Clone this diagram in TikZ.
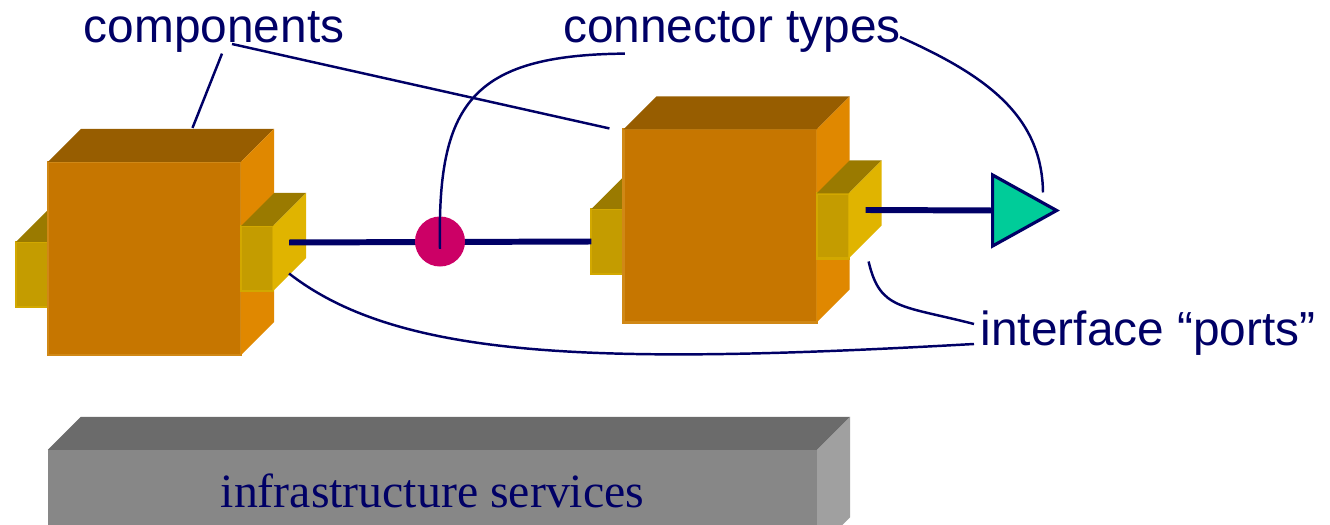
\documentclass[tikz,border=0pt]{standalone}
\usepackage{fontspec}
\setmainfont{Liberation Serif}
\newfontfamily\sansfont{Liberation Sans}
\usetikzlibrary{positioning, shapes.geometric, backgrounds}

\definecolor{navy}{HTML}{000066}
\definecolor{boxfront}{HTML}{C67600}
\definecolor{boxedge}{HTML}{D08816}
\definecolor{boxtop}{HTML}{975D00}
\definecolor{boxside}{HTML}{E08800}
\definecolor{portfront}{HTML}{C49C00}
\definecolor{portedge}{HTML}{D2A800}
\definecolor{porttop}{HTML}{9A7A00}
\definecolor{portside}{HTML}{E0B400}
\definecolor{barfront}{HTML}{878787}
\definecolor{bartop}{HTML}{6B6B6B}
\definecolor{barside}{HTML}{A0A0A0}
\definecolor{dotred}{HTML}{CC0066}
\definecolor{arrowgreen}{HTML}{00CC99}

\tikzset{
	cube/.style={rectangle, fill=boxfront, draw=boxedge, line width=0.6pt, minimum width=1.93cm, minimum height=1.93cm, inner sep=0pt, outer sep=0pt},
	port/.style={rectangle, fill=portfront, draw=portedge, line width=0.6pt, minimum width=0.32cm, minimum height=0.65cm, inner sep=0pt, outer sep=0pt},
	bar/.style={rectangle, fill=barfront, minimum width=7.69cm, minimum height=1cm, inner sep=0pt, outer sep=0pt},
	tagtext/.style={font=\sansfont\fontsize{13.6}{16}\selectfont, text=navy, inner sep=0pt, anchor=base},
	wire/.style={navy, line width=1.7pt},
	leader/.style={navy, line width=0.7pt},
}

% top and right faces behind a front rectangle
\newcommand{\backfaces}[3]{%
	\fill[#2] (#1.north west) -- ++(33,-33) -- ([shift={(33,-33)}]#1.north east) -- (#1.north east) -- cycle;
	\fill[#3] (#1.north east) -- ++(33,-33) -- ([shift={(33,-33)}]#1.south east) -- (#1.south east) -- cycle;
}

\begin{document}
\begin{tikzpicture}[x=0.01cm, y=-0.01cm]
	\clip (0,0) rectangle (1330,525);

	% first component
	\node[cube] (compA) at (144.5,258.5) {};
	\backfaces{compA}{boxtop}{boxside}
	\begin{scope}[on background layer]
		\node[port, left=0pt of compA, yshift=-0.16cm] (inA) {};
		\backfaces{inA}{porttop}{portside}
	\end{scope}
	\node[port, right=0pt of compA] (outA) {};
	\backfaces{outA}{porttop}{portside}

	% second component
	\node[cube] (compB) at (720,226) {};
	\backfaces{compB}{boxtop}{boxside}
	\begin{scope}[on background layer]
		\node[port, left=0pt of compB, yshift=-0.155cm] (inB) {};
		\backfaces{inB}{porttop}{portside}
	\end{scope}
	\node[port, right=0pt of compB] (outB) {};
	\backfaces{outB}{porttop}{portside}

	% connectors
	\draw[wire] ([shift={(16,-16)}]outA.east) -- (inB.west);
	\node[circle, fill=dotred, minimum size=0.5cm, inner sep=0pt] (dot) at (440,241.5) {};
	\node[isosceles triangle, isosceles triangle stretches, fill=arrowgreen, draw=navy, line width=0.9pt,
		minimum width=0.71cm, minimum height=0.64cm, inner sep=0pt, anchor=west] (ptr) at (991,210.5) {};
	\draw[wire] ([shift={(17,-16)}]outB.east) -- (ptr.west);

	% infrastructure
	\node[bar] (infra) at (432.5,500) {};
	\backfaces{infra}{bartop}{barside}
	\node[font=\fontsize{13.6}{16}\selectfont, text=navy, inner sep=0pt, anchor=base] (infratext) at (432.5,508) {infrastructure services};

	% labels
	\node[tagtext] (comptext) at (214,43) {components};
	\node[tagtext] (conntext) at (732,43) {connector types};
	\node[tagtext, anchor=base west] (porttext) at (980,346) {interface “ports”};

	\coordinate (topA) at ([shift={(48,-34)}]compA.north);
	\coordinate (nearB) at ([shift={(-14,-1)}]compB.north west);
	\coordinate (dotTop) at ([yshift=-0.33cm]dot.north);
	\coordinate (ptrTop) at ([shift={(52,-18)}]ptr.west);
	\coordinate (outBlow) at ([shift={(20,3)}]outB.south east);
	\coordinate (outAlow) at ([shift={(16,15)}]outA.east);

	\draw[leader] ([xshift=0.08cm]comptext.south) -- (topA);
	\draw[leader] ([shift={(18,1)}]comptext.base) -- (nearB);
	\draw[leader] ([xshift=-1.07cm]conntext.south) .. controls (470,55) and (437,105) .. (dotTop);
	\draw[leader] ([shift={(168,-6)}]conntext.base) .. controls (985,75) and (1042,115) .. (ptrTop);
	\draw[leader] ([shift={(-6,-22)}]porttext.base west) .. controls (900,305) and (880,310) .. (outBlow);
	\draw[leader] ([shift={(-6,-2)}]porttext.base west) .. controls (600,365) and (400,360) .. (outAlow);
\end{tikzpicture}
\end{document}
